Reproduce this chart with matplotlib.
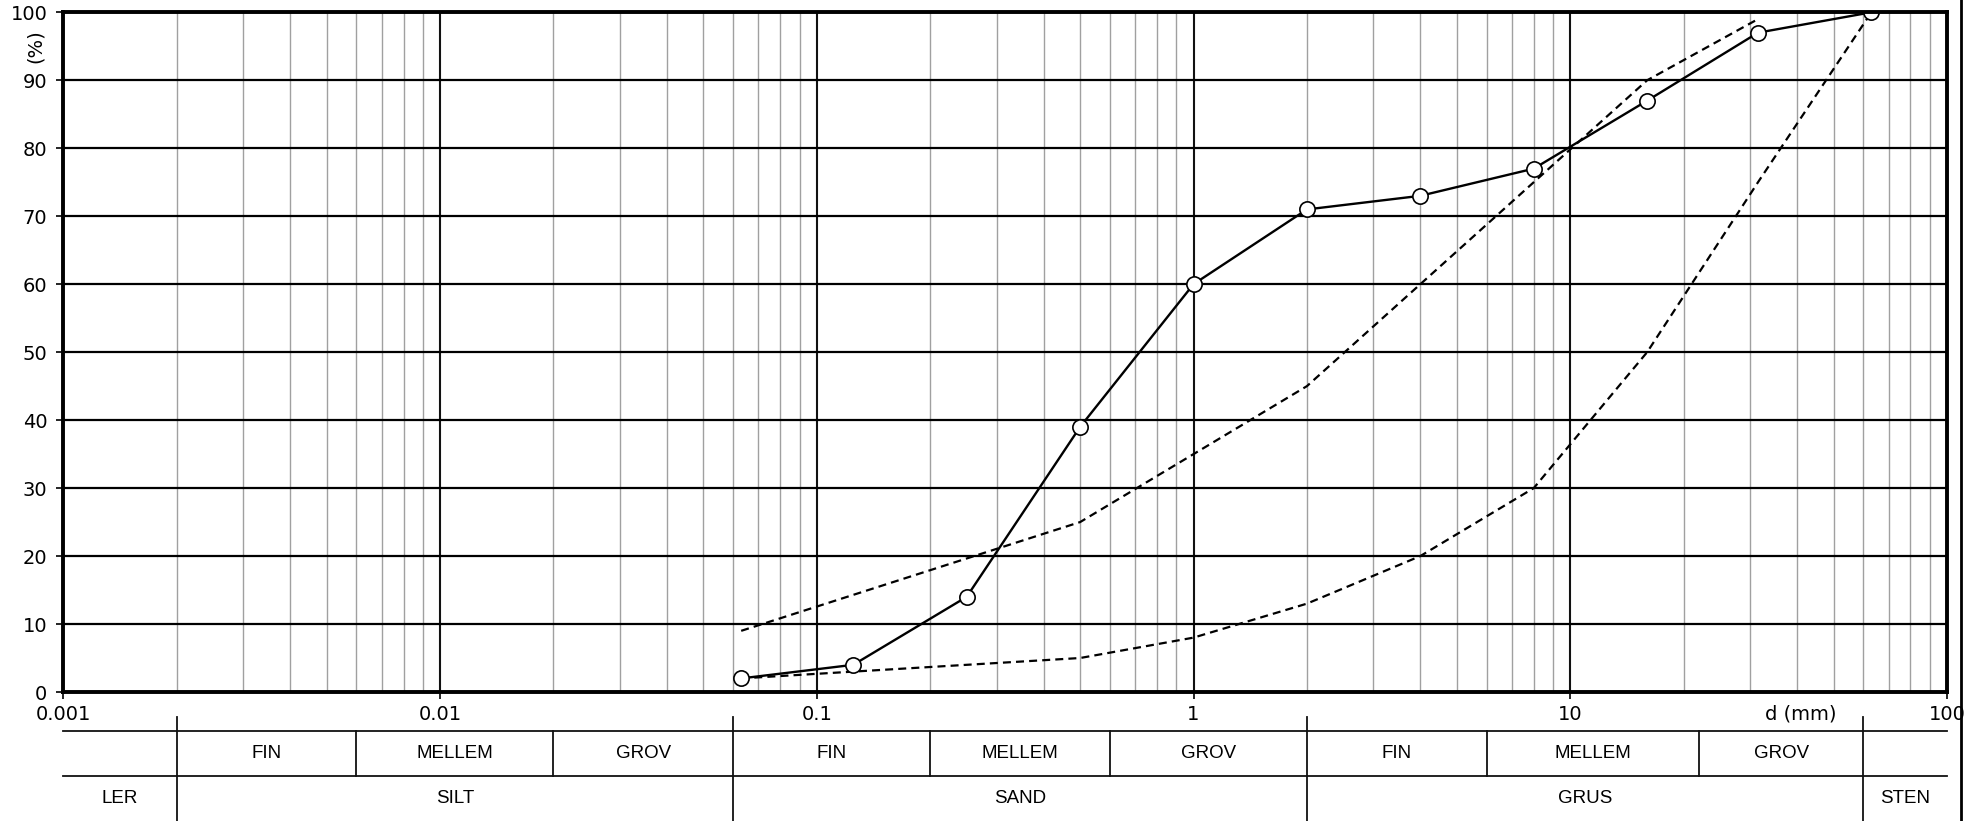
import matplotlib
matplotlib.use("Agg")
import numpy as np
import matplotlib.pyplot as plt
from matplotlib import transforms
from matplotlib.lines import Line2D
from matplotlib.ticker import FixedLocator, LogLocator, NullFormatter

# Sieve analysis: grain size (mm) vs. percentage passing
sieve_mm = [0.063, 0.125, 0.25, 0.5, 1, 2, 4, 8, 16, 31.5, 63]
passing_pct = [2, 4, 14, 39, 60, 71, 73, 77, 87, 97, 100]

# Grading envelope limits
upper_mm = [0.063, 0.5, 1, 2, 4, 8, 16, 31.5]
upper_pct = [9, 25, 35, 45, 60, 75, 90, 99]
lower_mm = [0.063, 0.125, 0.25, 0.5, 1, 2, 4, 8, 16, 31.5, 63]
lower_pct = [2, 3, 4, 5, 8, 13, 20, 30, 50, 75, 100]

x_ticks = [0.001, 0.01, 0.1, 1, 10, 100]
x_tick_labels = ["0.001", "0.01", "0.1", "1", "10", "100"]
y_ticks = list(range(0, 101, 10))

# Soil classification table below the chart
main_edges = [0.001, 0.002, 0.06, 2, 60, 100]
main_names = ["LER", "SILT", "SAND", "GRUS", "STEN"]
sub_groups = [
    [0.002, 0.006, 0.02, 0.06],   # silt
    [0.06, 0.2, 0.6, 2],          # sand
    [2, 6, 22, 60],               # gravel
]
sub_names = ["FIN", "MELLEM", "GROV"]

W, H, DPI = 1974, 821, 100
fig = plt.figure(figsize=(W / DPI, H / DPI), dpi=DPI)
ax = fig.add_axes([63.3 / W, 129 / H, (1947 - 63.3) / W, (692 - 12.3) / H])

ax.set_xscale("log")
ax.set_xlim(0.001, 100)
ax.set_ylim(0, 100)

# grid
ax.xaxis.set_major_locator(FixedLocator(x_ticks))
ax.set_xticklabels(x_tick_labels)
ax.xaxis.set_minor_locator(LogLocator(base=10, subs=np.arange(2, 10)))
ax.xaxis.set_minor_formatter(NullFormatter())
ax.set_yticks(y_ticks)
ax.set_yticklabels([str(v) for v in y_ticks])

ax.grid(True, which="minor", axis="x", color="#a0a0a0", linewidth=1.0)
ax.grid(True, which="major", axis="x", color="#111111", linewidth=1.5)
ax.grid(True, which="major", axis="y", color="#000000", linewidth=1.6)

ax.tick_params(which="minor", length=0)
ax.tick_params(which="major", direction="out", length=5, width=1.2,
               labelsize=14, colors="black")
ax.tick_params(axis="x", which="major", pad=4.5)
ax.tick_params(axis="y", which="major", pad=6.5)
for lab in ax.get_xticklabels() + ax.get_yticklabels():
    lab.set_fontfamily("DejaVu Sans")

for sp in ax.spines.values():
    sp.set_linewidth(2.8)
    sp.set_color("black")

# envelope curves
dash = (0, (3.6, 2.3))
ax.plot(upper_mm, upper_pct, color="black", linewidth=1.6,
        linestyle=dash, zorder=2.2)
ax.plot(lower_mm, lower_pct, color="black", linewidth=1.6,
        linestyle=dash, zorder=2.2)

# measured grading curve
ax.plot(sieve_mm, passing_pct, color="black", linewidth=1.7, marker="o",
        markersize=11, markerfacecolor="white", markeredgecolor="black",
        markeredgewidth=1.2, zorder=2.4)

# axis captions
tr = transforms.blended_transform_factory(ax.transData, fig.transFigure)
fig.text(41, 1 - 714 / H, "d (mm)", transform=tr, ha="center",
         va="center", fontsize=14, family="DejaVu Sans")
fig.text(35 / W, 1 - 45.7 / H, "(%)", rotation=90, ha="center", va="center",
         fontsize=14, family="DejaVu Sans")

# classification table
y_top = 1 - 730.7 / H
y_mid = 1 - 776 / H
y_major_top = 1 - 717 / H
line_kw = dict(color="#111111", linewidth=1.3, transform=tr, clip_on=False)

for yy in (y_top, y_mid):
    fig.add_artist(Line2D([main_edges[0], main_edges[-1]], [yy, yy], **line_kw))

for e in main_edges[1:-1]:
    fig.add_artist(Line2D([e, e], [y_major_top, 0], **line_kw))

row1_y = (y_top + y_mid) / 2
row2_y = y_mid / 2
txt_kw = dict(ha="center", va="center", fontsize=13.5,
              family="Liberation Sans", transform=tr)

for grp in sub_groups:
    for e in grp[1:-1]:
        fig.add_artist(Line2D([e, e], [y_top, y_mid], **line_kw))
    for a, b, name in zip(grp[:-1], grp[1:], sub_names):
        fig.text(np.sqrt(a * b), row1_y, name, **txt_kw)

for a, b, name in zip(main_edges[:-1], main_edges[1:], main_names):
    fig.text(np.sqrt(a * b), row2_y, name, **txt_kw)

# right-hand border line of the sheet
fig.add_artist(Line2D([1961.5 / W, 1961.5 / W], [0, 1], color="black",
                      linewidth=2.0, transform=fig.transFigure))

fig.savefig("out.png", dpi=DPI, facecolor="white")
